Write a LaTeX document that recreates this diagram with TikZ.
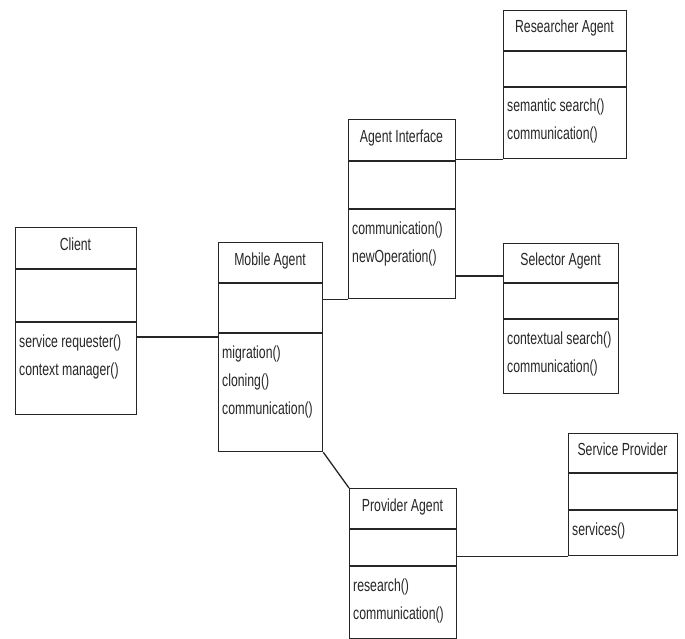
\documentclass[tikz,border=0pt]{standalone}
\usepackage{fontspec}
\setmainfont{Liberation Sans}[FakeStretch=0.7]
\usetikzlibrary{calc}
\tikzset{
  classbox/.style={draw=black!85, line width=1.3pt, inner sep=0pt, anchor=north west},
  divider/.style={draw=black!85, line width=1.3pt},
  conn/.style={draw=black!85, line width=1.3pt},
  classtitle/.style={font=\fontsize{17.5}{28}\selectfont, text=black!85, anchor=base, inner sep=0pt},
  classops/.style={font=\fontsize{17.5}{28}\selectfont, text=black!85, anchor=base west, inner sep=0pt},
}
% name, x1, y1, x2, y2, divider1, divider2, title, operations (comma separated)
\newcommand\umlclass[9]{%
  \node[classbox, minimum width={(#4-#2)*1pt}, minimum height={(#5-#3)*1pt}] (#1) at (#2,#3) {};
  \draw[divider] (#1.west |- 0,#6) -- (#1.east |- 0,#6);
  \draw[divider] (#1.west |- 0,#7) -- (#1.east |- 0,#7);
  \node[classtitle] (#1-title) at ({(#2+#4)/2},{(#3+#6)/2+2.5}) {#8};
  \foreach \op [count=\i] in {#9} {
    \node[classops] (#1-op\i) at ({#2+4},{#7+25+28*(\i-1)}) {\op};
  }
}
\begin{document}
\begin{tikzpicture}[x=1pt,y=-1pt]
\useasboundingbox (0,0) rectangle (685,639);
\umlclass{client}{15}{227}{136}{414}{269}{322}{Client}{service requester(),context manager()}
\umlclass{mobile}{218}{242}{322}{451}{283}{333}{Mobile Agent}{migration(),cloning(),communication()}
\umlclass{ai}{348}{119}{455}{298}{161}{209}{Agent Interface}{communication(),newOperation()}
\umlclass{res}{503}{10}{626}{158}{51}{87}{Researcher Agent}{semantic search(),communication()}
\umlclass{sel}{503}{243}{618}{393}{283}{319}{Selector Agent}{contextual search(),communication()}
\umlclass{prov}{349}{488}{456}{638}{529}{566}{Provider Agent}{research(),communication()}
\umlclass{sp}{568}{433}{677}{555}{473}{510}{Service Provider}{services()}
% connectors
\draw[conn] (client.east |- 0,337) -- (mobile.west |- 0,337);
\draw[conn] (mobile.east |- ai.south west) -- (ai.south west);
\draw[conn] (ai.east |- res.south west) -- (res.south west);
\draw[conn] (ai.east |- 0,276) -- (sel.west |- 0,276);
\draw[conn] (mobile.south east) -- (prov.north west);
\draw[conn] (prov.east |- sp.south west) -- (sp.south west);
\end{tikzpicture}
\end{document}
